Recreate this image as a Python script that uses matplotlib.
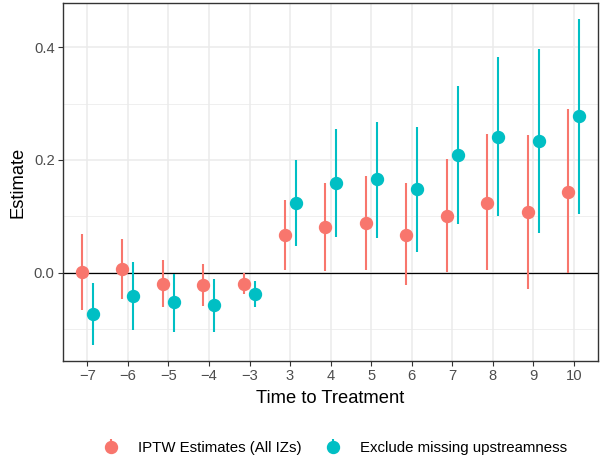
import matplotlib
matplotlib.use("Agg")
import matplotlib.pyplot as plt
import numpy as np

plt.rcParams['font.family'] = ['Liberation Sans', 'DejaVu Sans']

periods = ["\u22127", "\u22126", "\u22125", "\u22124", "\u22123", "3", "4", "5", "6", "7", "8", "9", "10"]

iptw_est = [0.002, 0.007, -0.019, -0.021, -0.019, 0.068, 0.081, 0.088, 0.068, 0.101, 0.124, 0.107, 0.144]
iptw_lo = [-0.065, -0.046, -0.061, -0.058, -0.038, 0.005, 0.004, 0.005, -0.022, 0.002, 0.005, -0.029, 0.000]
iptw_hi = [0.069, 0.060, 0.023, 0.016, 0.000, 0.130, 0.159, 0.172, 0.159, 0.202, 0.246, 0.244, 0.290]

excl_est = [-0.073, -0.041, -0.052, -0.057, -0.037, 0.124, 0.159, 0.166, 0.148, 0.209, 0.241, 0.234, 0.278]
excl_lo = [-0.127, -0.102, -0.104, -0.104, -0.060, 0.047, 0.064, 0.062, 0.037, 0.087, 0.100, 0.071, 0.105]
excl_hi = [-0.018, 0.019, -0.002, -0.010, -0.015, 0.200, 0.254, 0.267, 0.258, 0.331, 0.382, 0.396, 0.450]

labels = ["IPTW Estimates (All IZs)", "Exclude missing upstreamness"]
colors = ["#F8766D", "#00BFC4"]

fig = plt.figure(figsize=(6, 4.65), dpi=100)
ax = fig.add_axes([0.105, 0.2237, 0.892, 0.7698])

x = np.arange(1, len(periods) + 1)
dodge = 0.135

series = [(iptw_est, iptw_lo, iptw_hi), (excl_est, excl_lo, excl_hi)]
handles = []
for i, (est, lo, hi) in enumerate(series):
    est = np.array(est)
    err = [est - np.array(lo), np.array(hi) - est]
    xs = x + (i * 2 - 1) * dodge
    h = ax.errorbar(xs, est, yerr=err, fmt='o', color=colors[i], ms=8.6,
                    elinewidth=1.5, capsize=0, label=labels[i], zorder=3)
    handles.append(h)

ax.axhline(0, color='black', lw=0.9, zorder=2)

ax.set_xlim(0.4, 13.6)
ax.set_ylim(-0.156, 0.478)
ax.set_xticks(x)
ax.set_xticklabels(periods)
ax.set_yticks([0.0, 0.2, 0.4])
ax.set_yticklabels(["0.0", "0.2", "0.4"])
ax.set_yticks([-0.1, 0.1, 0.3], minor=True)

ax.grid(True, which='major', color='#EBEBEB', lw=1.1, zorder=0)
ax.grid(True, which='minor', axis='y', color='#EBEBEB', lw=0.55, zorder=0)
ax.set_axisbelow(True)

for s in ax.spines.values():
    s.set_color('#333333')
    s.set_linewidth(1.0)

ax.tick_params(axis='both', which='major', length=3.5, width=0.8, color='#333333',
               labelsize=10.6, labelcolor='#4D4D4D', pad=2.5)
ax.tick_params(axis='y', which='minor', length=0)

ax.set_xlabel("Time to Treatment", fontsize=13.2, labelpad=5)
ax.set_ylabel("Estimate", fontsize=13.2, labelpad=5)

fig.legend(handles=handles, labels=labels, loc='center', bbox_to_anchor=(0.558, 0.037),
           ncol=2, frameon=False, fontsize=10.8, handlelength=1.2, handletextpad=1.2,
           columnspacing=1.5)

fig.savefig("out.png", dpi=100)
